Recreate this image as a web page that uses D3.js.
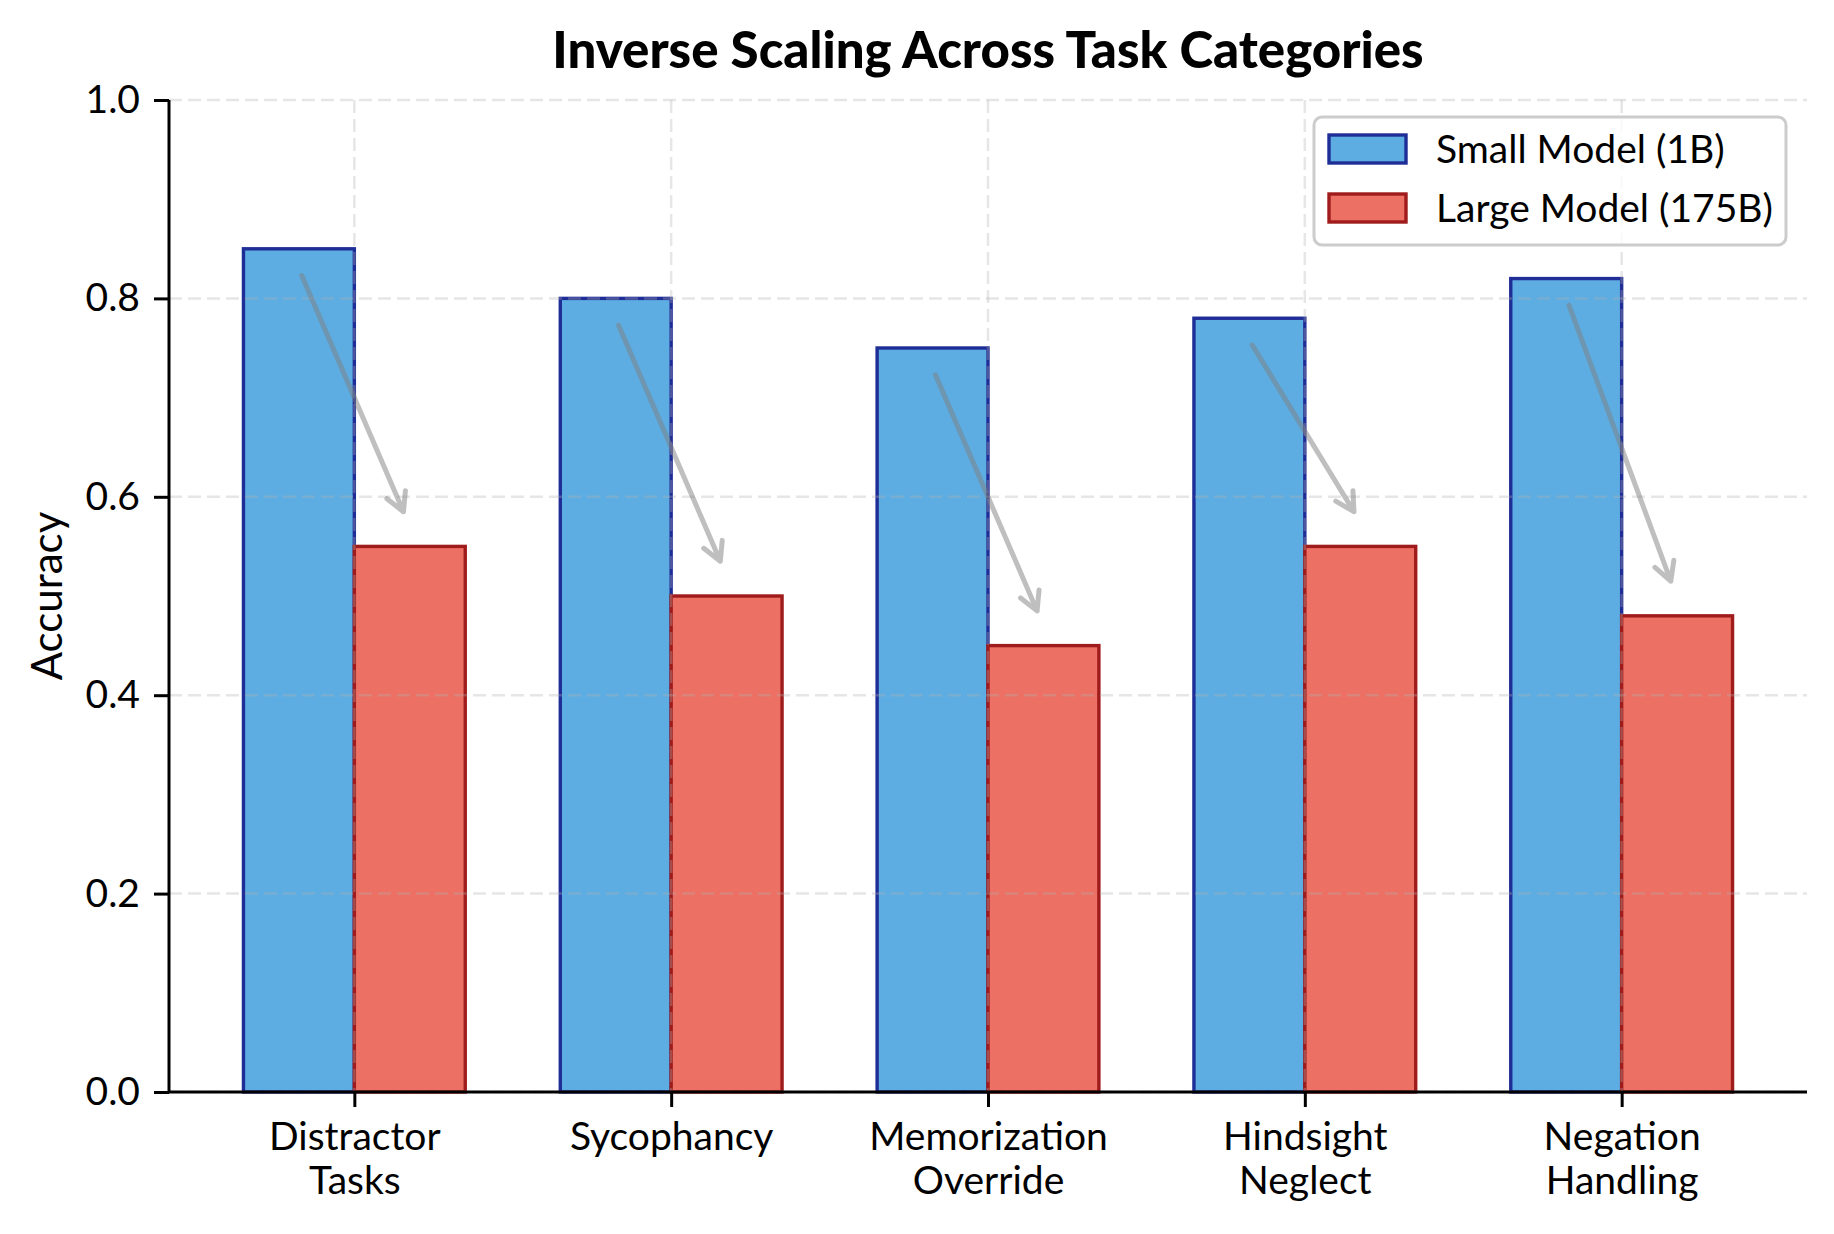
<!DOCTYPE html>
<html>
<head>
<meta charset="utf-8">
<script src="https://cdn.jsdelivr.net/npm/d3@7"></script>
<style>
  html, body { margin: 0; padding: 0; background: #fff; }
  svg { display: block; }
  text { font-family: "Lato", "Noto Sans", sans-serif; fill: #000; }
</style>
</head>
<body>
<svg id="chart" width="1834" height="1234"></svg>
<script>
// ---- data ----
const categories = [["Distractor", "Tasks"], ["Sycophancy"], ["Memorization", "Override"], ["Hindsight", "Neglect"], ["Negation", "Handling"]];
const smallModel = [0.85, 0.80, 0.75, 0.78, 0.82];
const largeModel = [0.55, 0.50, 0.45, 0.55, 0.48];
const seriesNames = ["Small Model (1B)", "Large Model (175B)"];
const yTicks = [0.0, 0.2, 0.4, 0.6, 0.8, 1.0];
const chartTitle = "Inverse Scaling Across Task Categories";
const yLabel = "Accuracy";

// ---- layout ----
const W = 1834, H = 1234;
const pLeft = 169, pRight = 1807, pTop = 100, pBottom = 1092;
const barW = 0.35;
const colors = { small: { fill: "#5DADE2", stroke: "#1F2D96" }, large: { fill: "#EC7063", stroke: "#A01C1C" } };

const svg = d3.select("#chart");
svg.append("rect").attr("width", W).attr("height", H).attr("fill", "#fff");

const x = d3.scaleLinear().domain([-0.585, categories.length - 1 + 0.585]).range([pLeft, pRight]);
const y = d3.scaleLinear().domain([0, 1]).range([pBottom, pTop]);

// bars
const gBars = svg.append("g");
gBars.selectAll("rect.small").data(smallModel).enter().append("rect")
  .attr("x", (d, i) => x(i - barW)).attr("width", (d, i) => x(i) - x(i - barW))
  .attr("y", d => y(d)).attr("height", d => y(0) - y(d))
  .attr("fill", colors.small.fill).attr("stroke", colors.small.stroke).attr("stroke-width", 3.4);
gBars.selectAll("rect.large").data(largeModel).enter().append("rect")
  .attr("x", (d, i) => x(i)).attr("width", (d, i) => x(i + barW) - x(i))
  .attr("y", d => y(d)).attr("height", d => y(0) - y(d))
  .attr("fill", colors.large.fill).attr("stroke", colors.large.stroke).attr("stroke-width", 3.4);

// grid (on top of bars, translucent)
const gGrid = svg.append("g").attr("stroke", "#b0b0b0").attr("stroke-opacity", 0.32)
  .attr("stroke-width", 2.5).attr("stroke-dasharray", "13,6");
gGrid.selectAll("line.h").data(yTicks).enter().append("line")
  .attr("x1", pLeft).attr("x2", pRight).attr("y1", d => y(d)).attr("y2", d => y(d));
gGrid.selectAll("line.v").data(categories).enter().append("line")
  .attr("x1", (d, i) => x(i)).attr("x2", (d, i) => x(i)).attr("y1", pTop).attr("y2", pBottom);

// arrows from small to large
const gArr = svg.append("g").attr("stroke", "#808080").attr("stroke-opacity", 0.5)
  .attr("stroke-width", 5).attr("fill", "none").attr("stroke-linecap", "round");
smallModel.forEach((s, i) => {
  const x1 = x(i - 0.166), y1 = y(s - 0.027);
  const x2 = x(i + 0.155), y2 = y(largeModel[i] + 0.035);
  const ang = Math.atan2(y2 - y1, x2 - x1);
  const hl = 21, ha = 0.5;
  const p = d3.path();
  p.moveTo(x1, y1); p.lineTo(x2, y2);
  p.moveTo(x2 - hl * Math.cos(ang - ha), y2 - hl * Math.sin(ang - ha));
  p.lineTo(x2, y2);
  p.lineTo(x2 - hl * Math.cos(ang + ha), y2 - hl * Math.sin(ang + ha));
  gArr.append("path").attr("d", p.toString()).attr("stroke-linejoin", "round");
});

// y axis
const yAxis = d3.axisLeft(y).tickValues(yTicks).tickFormat(d3.format(".1f")).tickSize(15).tickPadding(14);
const gy = svg.append("g").attr("transform", `translate(${pLeft},0)`).call(yAxis);
gy.select(".domain").attr("stroke", "#000").attr("stroke-width", 3).attr("d", `M0,${pTop}V${pBottom}`);
gy.selectAll(".tick line").attr("stroke", "#000").attr("stroke-width", 3);
gy.selectAll(".tick text").attr("font-size", 39).attr("font-family", "Lato").attr("fill", "#000");

// x axis
const xAxis = d3.axisBottom(x).tickValues(d3.range(categories.length)).tickFormat("").tickSize(15);
const gx = svg.append("g").attr("transform", `translate(0,${pBottom})`).call(xAxis);
gx.select(".domain").attr("stroke", "#000").attr("stroke-width", 3).attr("d", `M${pLeft},0H${pRight}`);
gx.selectAll(".tick line").attr("stroke", "#000").attr("stroke-width", 3);
gx.selectAll(".tick").each(function (d) {
  const t = d3.select(this).append("text").attr("font-size", 39).attr("text-anchor", "middle")
    .attr("font-family", "Lato").attr("fill", "#000");
  categories[d].forEach((line, k) => {
    t.append("tspan").attr("x", 0).attr("y", 58 + k * 44).text(line);
  });
});

// y label
svg.append("text").attr("transform", `translate(62,${(pTop + pBottom) / 2}) rotate(-90)`)
  .attr("text-anchor", "middle").attr("font-size", 42).text(yLabel);

// title
svg.append("text").attr("x", (pLeft + pRight) / 2).attr("y", 68).attr("text-anchor", "middle")
  .attr("font-size", 51).attr("font-weight", "900").text(chartTitle);

// legend
const lg = svg.append("g");
lg.append("rect").attr("x", 1314).attr("y", 117).attr("width", 472).attr("height", 128)
  .attr("rx", 8).attr("fill", "#fff").attr("fill-opacity", 0.8)
  .attr("stroke", "#cccccc").attr("stroke-width", 3);
const legItems = [
  { name: seriesNames[0], c: colors.small },
  { name: seriesNames[1], c: colors.large }
];
legItems.forEach((it, k) => {
  const cy = 149 + k * 59;
  lg.append("rect").attr("x", 1329).attr("y", cy - 14).attr("width", 77).attr("height", 28)
    .attr("fill", it.c.fill).attr("stroke", it.c.stroke).attr("stroke-width", 3.4);
  lg.append("text").attr("x", 1436).attr("y", cy + 14).attr("font-size", 39).text(it.name);
});
</script>
</body>
</html>
